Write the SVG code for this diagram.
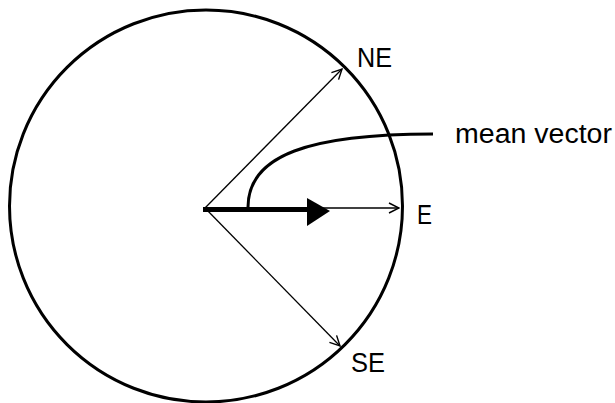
<svg xmlns="http://www.w3.org/2000/svg" width="615" height="403" viewBox="0 0 615 403">
<style>
.lbl{font-family:"Liberation Sans",Arial,Helvetica,sans-serif;font-size:27px;fill:#000}
.thin{stroke:#000;stroke-width:1.3;fill:none}
</style>
<defs>
<marker id="open" viewBox="0 0 12 12" refX="11" refY="6" markerWidth="12" markerHeight="12" markerUnits="userSpaceOnUse" orient="auto">
<path d="M1,1 L11,6 L1,11" fill="none" stroke="#000" stroke-width="1.4"/>
</marker>
</defs>
<rect width="615" height="403" fill="#fff"/>
<g id="circle">
<ellipse cx="206" cy="206" rx="196.5" ry="196" fill="none" stroke="#000" stroke-width="3"/>
</g>
<g id="connectors">
<line class="thin" x1="205" y1="208" x2="342" y2="69" marker-end="url(#open)"/>
<line class="thin" x1="205" y1="208" x2="399" y2="208" marker-end="url(#open)"/>
<line class="thin" x1="205" y1="208" x2="340" y2="346" marker-end="url(#open)"/>
<path d="M248,207 C248,155 310,134 433,134" fill="none" stroke="#000" stroke-width="3"/>
</g>
<g id="mean-arrow">
<line x1="203" y1="209.5" x2="312" y2="209.5" stroke="#000" stroke-width="5"/>
<polygon points="307,198 330,211 307,226" fill="#000"/>
</g>
<g id="labels">
<text class="lbl" x="357" y="67" textLength="35" lengthAdjust="spacingAndGlyphs">NE</text>
<text class="lbl" x="417" y="224" textLength="15" lengthAdjust="spacingAndGlyphs">E</text>
<text class="lbl" x="351" y="372" textLength="34" lengthAdjust="spacingAndGlyphs">SE</text>
<text class="lbl" x="455" y="143" textLength="157" lengthAdjust="spacingAndGlyphs">mean vector</text>
</g>
</svg>
